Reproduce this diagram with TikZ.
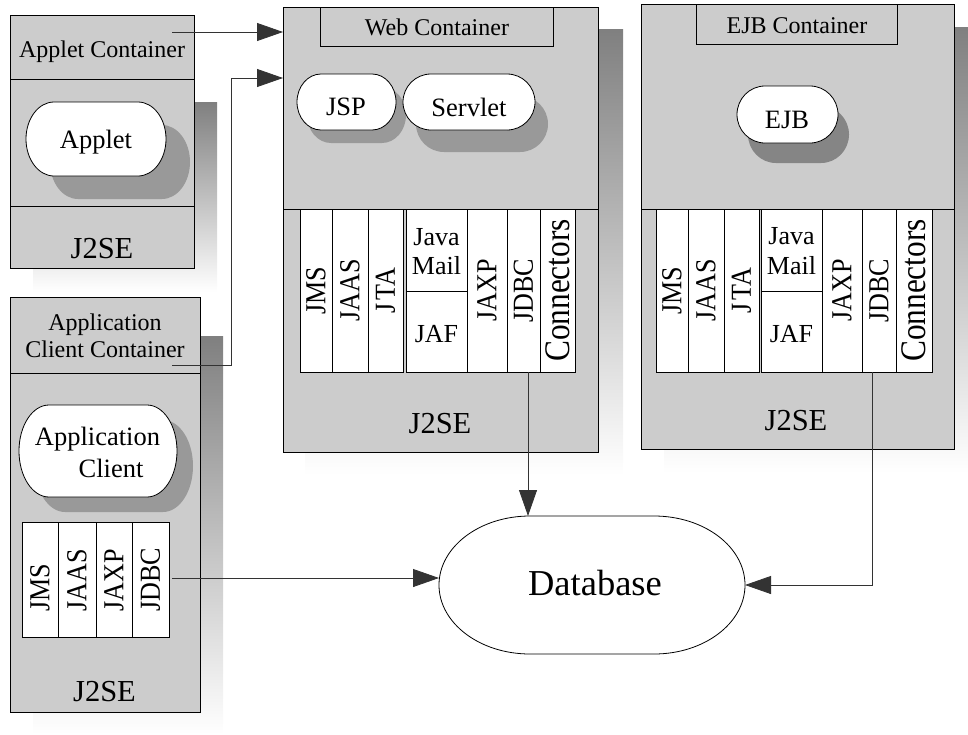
\documentclass[tikz,border=0pt]{standalone}
\usepackage{graphicx}
\usepackage{fontspec}
\setmainfont{Liberation Serif}
\usetikzlibrary{fit,calc,arrows.meta}

\definecolor{panel}{HTML}{CCCCCC}
\definecolor{shade}{HTML}{999999}
\definecolor{darkshade}{HTML}{858585}
\definecolor{wire}{HTML}{333333}

\newcommand\fsz[1]{\fontsize{#1}{#1}\selectfont}
\newcommand\apilbl[1]{\scalebox{0.9}[1]{#1}}
% capsule with elliptical ends fitted to the box of node #1;
% #2 = end radius, #3 = path options, #4/#5 = offset of the outline
\newcommand\capsule[5]{%
  \path[#3] let \p1=($(#1.north west)+(#4,#5)$), \p2=($(#1.south east)+(#4,#5)$),
      \n1={(\y1-\y2)/2} in
    (\x1+#2,\y1) -- (\x2-#2,\y1)
    arc[start angle=90,end angle=-90,x radius=#2,y radius=\n1]
    -- (\x1+#2,\y2)
    arc[start angle=270,end angle=90,x radius=#2,y radius=\n1] -- cycle;}

\begin{document}
\begin{tikzpicture}[x=1pt,y=-1pt,
  frame/.style={draw=black, line width=0.8pt, fill=panel, inner sep=0pt, outer sep=0pt},
  area/.style={inner sep=0pt, outer sep=0pt},
  cell/.style={draw=black, line width=0.8pt, fill=white, inner sep=0pt, outer sep=0pt},
  rule/.style={draw=black, line width=0.8pt},
  caption/.style={font=\fsz{24}, inner sep=0pt, anchor=base},
  basecaption/.style={font=\fsz{30.5}, inner sep=0pt, anchor=base},
  pilltext/.style={font=\fsz{26.5}, inner sep=0pt, anchor=base},
  boxtext/.style={font=\fsz{26}, inner sep=0pt, anchor=base},
  apitext/.style={font=\fsz{29}, inner sep=0pt, rotate=90},
  conntext/.style={font=\fsz{36}, inner sep=0pt, rotate=90},
  pillline/.style={draw=black, fill=white, line width=0.8pt},
  link/.style={draw=wire, line width=0.8pt, -{Triangle[length=26pt,width=18pt]}}]
\useasboundingbox (0,0) rectangle (968,734);

% ---------------- Applet container ----------------
\fill[shade] (33,102) rectangle (217,292);
\node[frame, fit={(10,15)(194,268)}] (appletbox) {};
\node[area, fit={(10,15)(194,79)}] (applethead) {};
\node[area, fit={(10,206)(194,268)}] (appletbase) {};
\draw[rule] (applethead.south west) -- (applethead.south east);
\draw[rule] (appletbase.north west) -- (appletbase.north east);
\node[caption] (appletttl) at (102,57) {Applet Container};
\node[area, fit={(26,102)(166,176)}] (applet) {};
\capsule{applet}{28pt}{fill=shade}{24}{23}
\capsule{applet}{28pt}{pillline}{0}{0}
\node[pilltext] (appletlbl) at (96,148) {Applet};
\node[basecaption] (appletj2se) at (102,258) {J2SE};
\coordinate (appletout) at (172,32);

% ---------------- Application client container ----------------
\fill[shade] (33,336) rectangle (223,734);
\node[frame, fit={(10,297)(200,712)}] (acbox) {};
\node[area, fit={(10,297)(200,373)}] (achead) {};
\draw[rule] (achead.south west) -- (achead.south east);
\node[caption] (acttla) at (105,330) {Application};
\node[caption] (acttlb) at (105,357) {Client Container};
\coordinate (acout) at (172,365);
\node[area, fit={(19,405)(177,497)}] (acpill) {};
\capsule{acpill}{30pt}{fill=shade}{16}{15}
\capsule{acpill}{30pt}{pillline}{0}{0}
\node[pilltext] (acpilla) at (97.5,445) {Application};
\node[pilltext] (acpillb) at (111,477) {Client};
\node[cell, fit={(22,522)(58,637)}] (acjms) {};
\node[cell, fit={(58,522)(96,637)}] (acjaas) {};
\node[cell, fit={(96,522)(132,637)}] (acjaxp) {};
\node[cell, fit={(132,522)(169,637)}] (acjdbc) {};
\node[apitext, anchor=west] (acjmslbl) at (acjms.center |- 0,612) {\apilbl{JMS}};
\node[apitext, anchor=west] (acjaaslbl) at (acjaas.center |- 0,612) {\apilbl{JAAS}};
\node[apitext, anchor=west] (acjaxplbl) at (acjaxp.center |- 0,612) {\apilbl{JAXP}};
\node[apitext, anchor=west] (acjdbclbl) at (acjdbc.center |- 0,612) {\apilbl{JDBC}};
\node[basecaption] (acj2se) at (104.5,701) {J2SE};

% ---------------- Web container ----------------
\fill[shade] (305,29) rectangle (623,475);
\node[frame, fit={(283,7)(598,452)}] (webbox) {};
\node[frame, fit={(320,7)(553,46)}] (webhead) {};
\node[caption] (webttl) at (437,35) {Web Container};
\node[area, fit={(283,209)(598,452)}] (webbase) {};
\draw[rule] (webbase.north west) -- (webbase.north east);
\node[area, fit={(297,74)(396,130)}] (jsp) {};
\node[area, fit={(403,74)(535,130)}] (servlet) {};
\capsule{jsp}{24pt}{fill=shade}{10}{13}
\capsule{servlet}{28pt}{fill=shade}{13}{22}
\capsule{jsp}{24pt}{pillline}{0}{0}
\capsule{servlet}{28pt}{pillline}{0}{0}
\node[pilltext] (jsplbl) at (346,115) {JSP};
\node[pilltext] (servletlbl) at (469,116) {Servlet};
\node[cell, fit={(300,209)(332,372)}] (wjms) {};
\node[cell, fit={(332,209)(368,372)}] (wjaas) {};
\node[cell, fit={(368,209)(403,372)}] (wjta) {};
\node[cell, fit={(406,209)(467,291)}] (wmail) {};
\node[cell, fit={(406,291)(467,372)}] (wjaf) {};
\node[cell, fit={(467,209)(507,372)}] (wjaxp) {};
\node[cell, fit={(507,209)(540,372)}] (wjdbc) {};
\node[cell, fit={(540,209)(575,372)}] (wconn) {};
\node[apitext] (wjmslbl) at (wjms.center) {\apilbl{JMS}};
\node[apitext] (wjaaslbl) at (wjaas.center) {\apilbl{JAAS}};
\node[apitext] (wjtalbl) at (wjta.center) {\apilbl{J\kern3pt TA}};
\node[boxtext] (wjava) at (436.5,245) {Java};
\node[boxtext] (wmaillbl) at (436.5,274) {Mail};
\node[boxtext] (wjaflbl) at (436.5,342) {JAF};
\node[apitext] (wjaxplbl) at (wjaxp.center) {\apilbl{JAXP}};
\node[apitext] (wjdbclbl) at (wjdbc.center) {\apilbl{JDBC}};
\node[conntext] (wconnlbl) at (wconn.center) {\scalebox{0.87}[1]{Connectors}};
\node[basecaption] (webj2se) at (440,433) {J2SE};

% ---------------- EJB container ----------------
\fill[shade] (664,27) rectangle (968,473);
\node[frame, fit={(641,4)(954,449)}] (ejbbox) {};
\node[frame, fit={(696,4)(897,44)}] (ejbhead) {};
\node[caption] (ejbttl) at (797,33) {EJB Container};
\node[area, fit={(641,209)(954,449)}] (ejbbase) {};
\draw[rule] (ejbbase.north west) -- (ejbbase.north east);
\node[area, fit={(737,86)(838,143)}] (ejb) {};
\capsule{ejb}{28pt}{fill=darkshade}{11}{20}
\capsule{ejb}{28pt}{pillline}{0}{0}
\node[pilltext] (ejblbl) at (787,128) {EJB};
\node[cell, fit={(656,209)(688,372)}] (ejms) {};
\node[cell, fit={(688,209)(724,372)}] (ejaas) {};
\node[cell, fit={(724,209)(759,372)}] (ejta) {};
\node[cell, fit={(761,209)(822,291)}] (email) {};
\node[cell, fit={(761,291)(822,372)}] (ejaf) {};
\node[cell, fit={(822,209)(862,372)}] (ejaxp) {};
\node[cell, fit={(862,209)(896,372)}] (ejdbc) {};
\node[cell, fit={(896,209)(932,372)}] (econn) {};
\node[apitext] (ejmslbl) at (ejms.center) {\apilbl{JMS}};
\node[apitext] (ejaaslbl) at (ejaas.center) {\apilbl{JAAS}};
\node[apitext] (ejtalbl) at (ejta.center) {\apilbl{J\kern3pt TA}};
\node[boxtext] (ejava) at (791.5,244) {Java};
\node[boxtext] (emaillbl) at (791.5,274) {Mail};
\node[boxtext] (ejaflbl) at (791.5,342) {JAF};
\node[apitext] (ejaxplbl) at (ejaxp.center) {\apilbl{JAXP}};
\node[apitext] (ejdbclbl) at (ejdbc.center) {\apilbl{JDBC}};
\node[conntext] (econnlbl) at (econn.center) {\scalebox{0.87}[1]{Connectors}};
\node[basecaption] (ejbj2se) at (796,430) {J2SE};

% ---------------- Database ----------------
\node[area, fit={(439,516)(745,654)}] (db) {};
\capsule{db}{91pt}{pillline}{0}{0}
\node[font=\fsz{36.5}, inner sep=0pt, anchor=base] (dblbl) at (595,595) {Database};

% ---------------- Connectors ----------------
\draw[link] (appletout) -- (appletout -| webbox.west);
\draw[link] (acout) -- ++(59,0) |- ($(webbox.north west)+(0,71)$);
\coordinate (acdb) at ($(acjdbc.east)+(3,-1.5)$);
\draw[link] (acdb) -- (acdb -| db.west);
\coordinate (webdb) at ($(wjdbc.south)+(4.5,0)$);
\draw[link] (webdb) -- (webdb |- db.north);
\coordinate (ejbdb) at ($(ejdbc.south)+(-7,0)$);
\draw[link] (ejbdb) |- (db.east);
\end{tikzpicture}
\end{document}
